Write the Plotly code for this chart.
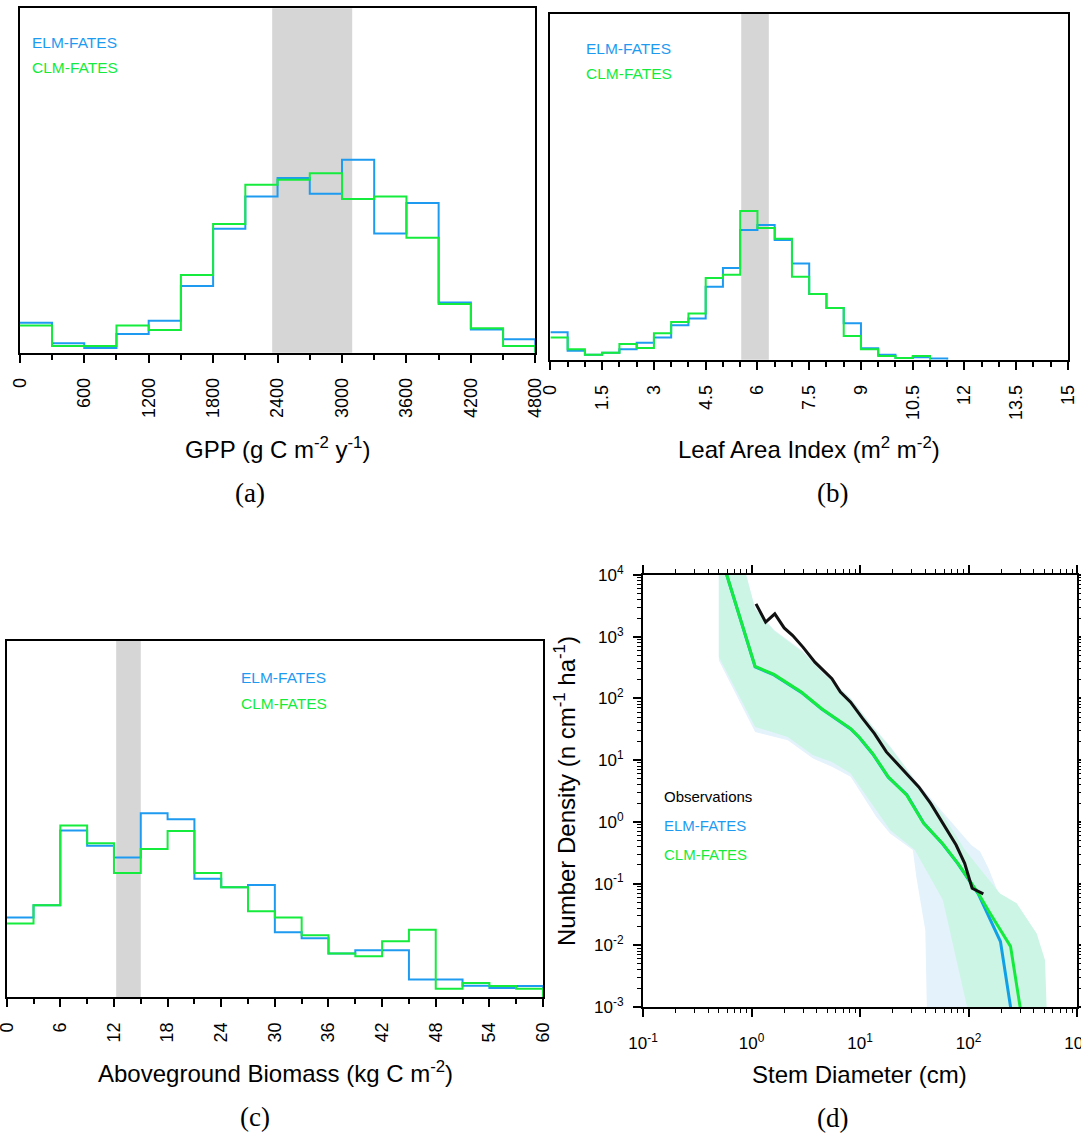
import numpy as np
import plotly.graph_objects as go

# ---------------------------------------------------------------- data
# (a) GPP histogram, 300 g C m-2 y-1 bins, frequency (%)
gpp_edges = np.arange(0, 4801, 300)
gpp_elm = [2.18, 0.68, 0.34, 1.36, 2.32, 4.84, 9.00, 11.33, 12.68, 11.54,
           14.01, 8.66, 10.87, 3.65, 1.69, 0.97]
gpp_clm = [1.98, 0.48, 0.48, 1.98, 1.65, 5.64, 9.34, 12.20, 12.56, 13.02,
           11.16, 11.33, 8.35, 3.53, 1.77, 0.48]
gpp_obs = (2350, 3095)

# (b) LAI histogram, 0.5 m2 m-2 bins
lai_edges = np.arange(0, 15.01, 0.5)
lai_elm = [2.77, 0.91, 0.51, 0.71, 1.05, 1.72, 2.26, 3.48, 4.18, 7.39,
           9.28, 13.13, 13.64, 12.12, 9.75, 6.65, 5.23, 3.68, 1.15, 0.51,
           0.17, 0.24, 0.13, 0, 0, 0, 0, 0, 0, 0]
lai_clm = [2.26, 1.05, 0.51, 0.71, 1.59, 1.18, 2.67, 3.81, 4.69, 8.27,
           8.61, 15.05, 13.33, 12.25, 8.40, 6.65, 5.23, 2.40, 1.05, 0.37,
           0.17, 0.37, 0, 0, 0, 0, 0, 0, 0, 0]
lai_obs = (5.53, 6.33)

# (c) aboveground biomass histogram, 3 kg C m-2 bins
agb_edges = np.arange(0, 60.01, 3)
agb_elm = [4.81, 5.55, 10.06, 9.15, 8.43, 11.10, 10.74, 7.16, 6.64, 6.78,
           3.92, 3.56, 2.65, 2.84, 2.84, 1.07, 1.07, 0.70, 0.56, 0.68]
agb_clm = [4.46, 5.55, 10.36, 9.29, 7.50, 8.95, 10.04, 7.50, 6.64, 5.19,
           4.81, 3.74, 2.65, 2.47, 3.38, 4.08, 0.52, 0.86, 0.68, 0.52]
agb_obs = (12.25, 15.0)

# (d) size distributions: stem diameter (cm) vs number density (n cm-1 ha-1)
dbh_obs = [1.10, 1.35, 1.64, 2.0, 2.40, 2.98, 3.84, 5.51, 6.6, 8.2, 10.6,
           13.6, 17.5, 25.1, 34.8, 44.8, 59.7, 76.9, 92.2, 108, 137]
den_obs = [3400, 1720, 2344, 1390, 1045, 678, 387, 208, 127, 87, 47,
           26.9, 13.6, 6.87, 3.69, 1.99, 0.887, 0.421, 0.213, 0.084, 0.068]

dbh_elm = [0.5, 1.08, 1.61, 2.88, 4.44, 6.6, 8.2, 9.8, 13.1, 18.2, 27,
           38.7, 57.6, 79.8, 123, 197, 244, 270]
den_elm = [26000, 325, 240, 125, 67, 41, 32, 23.5, 12.6, 5.3, 2.75,
           0.95, 0.44, 0.21, 0.068, 0.0115, 0.001, 0.00032]

dbh_clm = [0.5, 1.08, 1.61, 2.88, 4.44, 6.6, 8.2, 9.8, 13.1, 18.2, 27,
           38.7, 57.6, 79.8, 123, 158, 244, 299, 350]
den_clm = [26000, 330, 245, 127, 68, 41.5, 32.4, 23.8, 12.8, 5.36, 2.71,
           0.944, 0.448, 0.213, 0.0697, 0.033, 0.0096, 0.001, 0.00017]

# ensemble spread (upper / lower envelopes)
elm_hi_x = [0.5, 0.84, 1.08, 1.61, 2.98, 4.44, 8.2, 13.1, 18.9, 33.5, 59.7,
            106, 128, 153, 186, 278, 417, 485, 490]
elm_hi_y = [30000, 15000, 2900, 1300, 580, 275, 102, 35.5, 17, 4.4, 1.35,
            0.42, 0.33, 0.177, 0.074, 0.04, 0.0108, 0.001, 0.0001]
elm_lo_x = [0.5, 1.08, 2.16, 3.69, 5.51, 8.2, 14.1, 18.9, 30.7, 33, 40,
            41.3, 42]
elm_lo_y = [412, 28.6, 21, 10.6, 7.8, 5.4, 1.21, 0.65, 0.35, 0.13, 0.0176,
            0.001, 0.0001]

clm_hi_x = [0.5, 0.84, 1.08, 1.61, 2.98, 4.44, 8.2, 13.1, 18.9, 33.5, 59.7,
            93, 195, 278, 425, 507, 525, 530]
clm_hi_y = [30000, 15000, 2800, 1260, 562, 267, 99, 34.4, 16.4, 4.18, 1.21,
            0.35, 0.069, 0.048, 0.0155, 0.0058, 0.001, 0.0001]
clm_lo_x = [0.5, 1.08, 2.16, 3.69, 5.51, 8.2, 14.1, 18.9, 32, 58, 97, 100]
clm_lo_y = [470, 34.5, 23.8, 12.0, 9.35, 6.07, 1.55, 0.736, 0.35, 0.054,
            0.001, 0.0001]

# ---------------------------------------------------------------- style
W, H = 1081, 1135
SANS = "Liberation Sans, Arial, Helvetica, sans-serif"
SERIF = "Liberation Serif, Times New Roman, serif"
C_ELM = "#1E9BF0"
C_CLM = "#14EB3C"
C_ELM_D = "#10A0E6"
C_OBS = "#111111"
BAND_ELM = "#E4F2FC"
BAND_CLM = "#CDF5E6"
GREY = "#D6D6D6"


def dom_x(x0, x1):
    return [x0 / W, x1 / W]


def dom_y(top, bottom):
    return [1 - bottom / H, 1 - top / H]


def step(edges, vals):
    k = len(vals)
    while k > 0 and vals[k - 1] == 0:
        k -= 1
    return list(edges[:k + 1]), list(vals[:k]) + [0]


fig = go.Figure()

# histograms
for (edges, elm, clm, ax) in [(gpp_edges, gpp_elm, gpp_clm, ""),
                              (lai_edges, lai_elm, lai_clm, "2"),
                              (agb_edges, agb_elm, agb_clm, "3")]:
    for vals, col in [(elm, C_ELM), (clm, C_CLM)]:
        xs, ys = step(edges, vals)
        fig.add_trace(go.Scatter(x=xs, y=ys, mode="lines", line_shape="hv",
                                 line=dict(color=col, width=2),
                                 xaxis="x" + ax, yaxis="y" + ax,
                                 showlegend=False, hoverinfo="skip"))

# size-distribution spread
for hx, hy, lx, ly, col in [(elm_hi_x, elm_hi_y, elm_lo_x, elm_lo_y, BAND_ELM),
                            (clm_hi_x, clm_hi_y, clm_lo_x, clm_lo_y, BAND_CLM)]:
    fig.add_trace(go.Scatter(x=hx + lx[::-1], y=hy + ly[::-1], mode="lines",
                             fill="toself", fillcolor=col,
                             line=dict(width=0, color=col),
                             xaxis="x4", yaxis="y4", showlegend=False,
                             hoverinfo="skip"))

for xs, ys, col in [(dbh_elm, den_elm, C_ELM_D), (dbh_clm, den_clm, C_CLM),
                    (dbh_obs, den_obs, C_OBS)]:
    fig.add_trace(go.Scatter(x=xs, y=ys, mode="lines",
                             line=dict(color=col, width=3),
                             xaxis="x4", yaxis="y4", showlegend=False))


def hist_xaxis(dom, rng, dtick, minor_dtick, anchor):
    return dict(domain=dom, range=rng, anchor=anchor, tickmode="linear",
                tick0=0, dtick=dtick, ticks="outside", ticklen=8,
                tickwidth=1.5, tickcolor="black", tickangle=-90,
                ticklabelstandoff=8, automargin=False,
                ticklabeloverflow="allow",
                tickfont=dict(size=18, family=SANS, color="black"),
                showline=True, linewidth=2, linecolor="black", mirror=True,
                showgrid=False, zeroline=False,
                minor=dict(dtick=minor_dtick, tick0=0, ticks="outside",
                           ticklen=5, tickwidth=1.5, tickcolor="black",
                           showgrid=False))


def hist_yaxis(dom, top, anchor):
    return dict(domain=dom, range=[0, top], anchor=anchor, automargin=False,
                showticklabels=False, ticks="", showline=True, linewidth=2,
                linecolor="black", mirror=True, showgrid=False,
                zeroline=False)


minor_x = [k * 10.0 ** d for d in range(-1, 3) for k in range(2, 10)]
minor_y = [k * 10.0 ** d for d in range(-3, 4) for k in range(2, 10)]
dec_x = [-1, 0, 1, 2, 3]
dec_y = [-3, -2, -1, 0, 1, 2, 3, 4]

fig.update_layout(
    width=W, height=H, margin=dict(l=0, r=0, t=0, b=0, autoexpand=False),
    paper_bgcolor="white", plot_bgcolor="white",
    font=dict(family=SANS, color="black"),
    xaxis=hist_xaxis(dom_x(19.8, 535.3), [0, 4800], 600, 300, "y"),
    yaxis=hist_yaxis(dom_y(8.3, 352.7), 25, "x"),
    xaxis2=hist_xaxis(dom_x(550.4, 1068), [0, 15], 1.5, 0.5, "y2"),
    yaxis2=hist_yaxis(dom_y(14, 359.7), 35, "x2"),
    xaxis3=hist_xaxis(dom_x(6.7, 543), [0, 60], 6, 3, "y3"),
    yaxis3=hist_yaxis(dom_y(641, 997.3), 21.5, "x3"),
    xaxis4=dict(domain=dom_x(643, 1077), anchor="y4", type="log",
                range=[-1, 3], tickmode="array", automargin=False,
                ticklabeloverflow="allow",
                tickvals=[10.0 ** d for d in dec_x],
                ticktext=["10<sup>%d</sup>" % d for d in dec_x],
                ticks="outside", ticklen=8, tickwidth=1.5, tickcolor="black",
                ticklabelstandoff=12,
                tickfont=dict(size=17, family=SANS, color="black"),
                showline=True, linewidth=2, linecolor="black", mirror="ticks",
                showgrid=False, zeroline=False,
                minor=dict(tickvals=minor_x, ticks="outside", ticklen=4,
                           tickwidth=1.2, tickcolor="black", showgrid=False)),
    yaxis4=dict(domain=dom_y(575, 1007), anchor="x4", type="log",
                range=[-3, 4], tickmode="array", automargin=False,
                ticklabeloverflow="allow",
                tickvals=[10.0 ** d for d in dec_y],
                ticktext=["10<sup>%d</sup>" % d for d in dec_y],
                ticks="outside", ticklen=8, tickwidth=1.5, tickcolor="black",
                ticklabelstandoff=6,
                tickfont=dict(size=17, family=SANS, color="black"),
                showline=True, linewidth=2, linecolor="black", mirror="ticks",
                showgrid=False, zeroline=False,
                minor=dict(tickvals=minor_y, ticks="outside", ticklen=4,
                           tickwidth=1.2, tickcolor="black", showgrid=False)),
)

# observed ranges as grey bands
for (lo, hi), ax in [(gpp_obs, "x"), (lai_obs, "x2"), (agb_obs, "x3")]:
    fig.add_shape(type="rect", xref=ax, yref=ax.replace("x", "y") + " domain",
                  x0=lo, x1=hi, y0=0, y1=1, fillcolor=GREY,
                  line=dict(width=0), layer="below")

ann = []


def text(px, py, s, size, color="black", family=SANS, xanchor="center",
         angle=0):
    ann.append(dict(x=px / W, y=1 - py / H, xref="paper", yref="paper",
                    text=s, showarrow=False, xanchor=xanchor,
                    yanchor="middle", textangle=angle,
                    font=dict(size=size, color=color, family=family)))


# series labels
for x0, y0, y1 in [(29.5, 42, 68), (584, 48, 74), (238.5, 677, 703)]:
    text(x0, y0, "ELM-FATES", 15.5, C_ELM, xanchor="left")
    text(x0, y1, "CLM-FATES", 15.5, C_CLM, xanchor="left")
text(662, 796, "Observations", 15, "black", xanchor="left")
text(662, 825, "ELM-FATES", 15, C_ELM, xanchor="left")
text(662, 854, "CLM-FATES", 15, C_CLM, xanchor="left")

# axis titles
text(277, 448, "GPP (g C m<sup>-2</sup> y<sup>-1</sup>)", 24)
text(809, 448, "Leaf Area Index (m<sup>2</sup> m<sup>-2</sup>)", 24)
text(275, 1072, "Aboveground Biomass (kg C m<sup>-2</sup>)", 24)
text(859, 1074, "Stem Diameter (cm)", 24)
text(565, 791, "Number Density (n cm<sup>-1</sup> ha<sup>-1</sup>)", 24,
     angle=-90)

# panel letters
text(250, 493, "(a)", 27, family=SERIF)
text(832, 493, "(b)", 27, family=SERIF)
text(255, 1117, "(c)", 27, family=SERIF)
text(832, 1118, "(d)", 27, family=SERIF)

fig.update_layout(annotations=ann)
fig.write_html("out.html")
